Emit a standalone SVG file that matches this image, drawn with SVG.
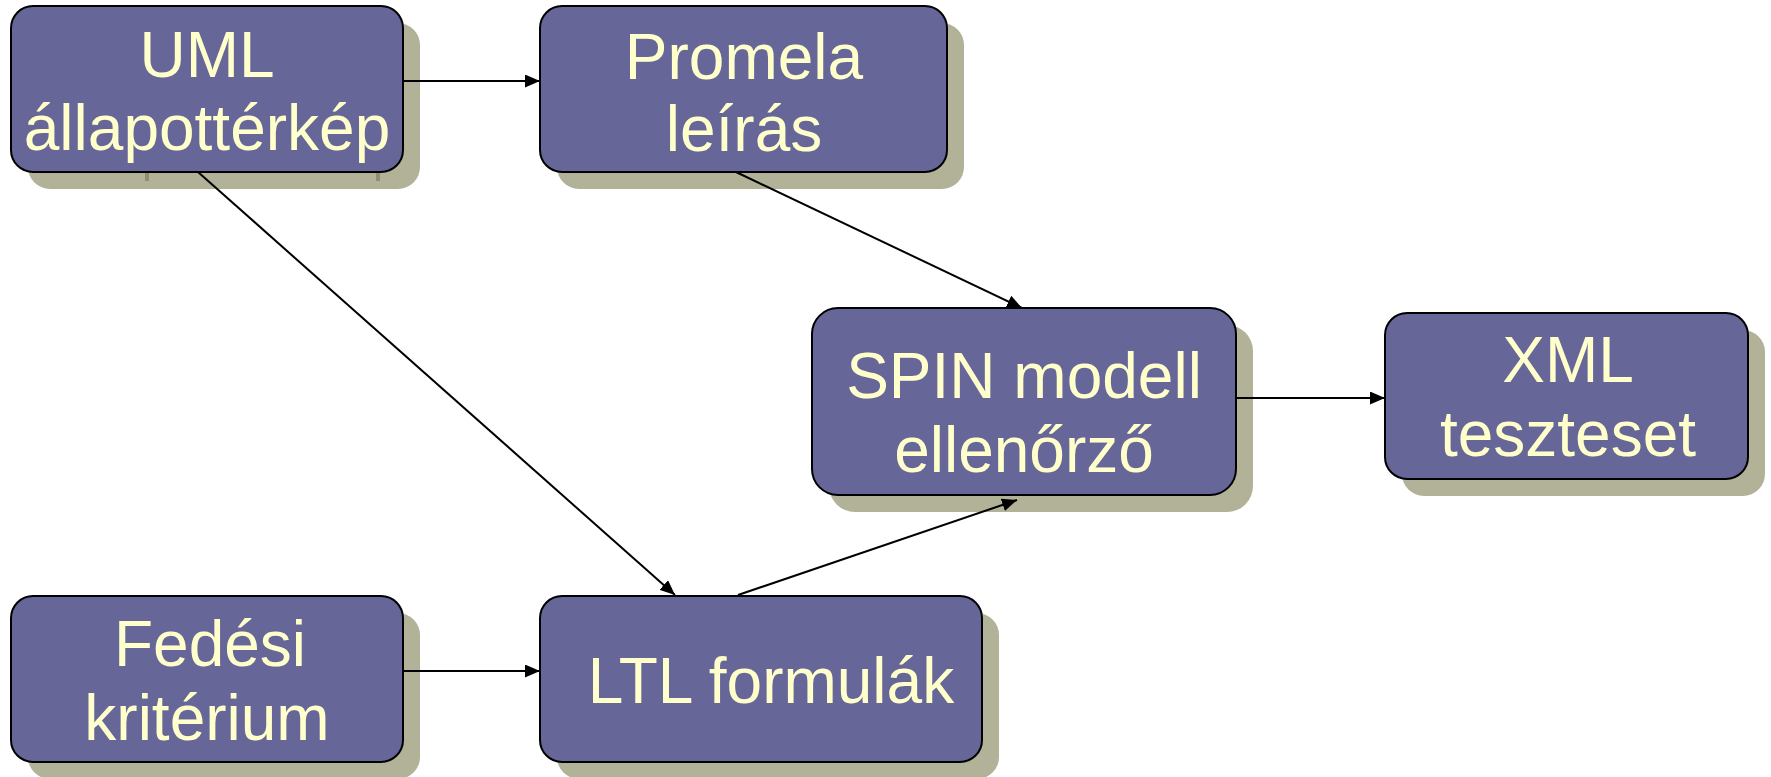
<svg xmlns="http://www.w3.org/2000/svg" width="1771" height="777" viewBox="0 0 1771 777">
<defs>
<style>
.sh{fill:#B2B299;}
.bx{fill:#666699;stroke:#000;stroke-width:2;}
.t{font-family:"Liberation Sans",Arial,sans-serif;font-size:64px;fill:#FFFFCC;text-anchor:middle;}
.c{stroke:#000;stroke-width:2;fill:none;marker-end:url(#ah);}
</style>
<marker id="ah" markerUnits="userSpaceOnUse" markerWidth="15" markerHeight="13" refX="15" refY="6.5" orient="auto">
<path d="M0,0 L15,6.5 L0,13 z" fill="#000"/>
</marker>
</defs>
<rect width="1771" height="777" fill="#fff"/>
<g id="n-uml">
<rect class="sh" x="28" y="23" width="392" height="166" rx="22"/>
<rect x="145" y="172" width="4" height="9" fill="#8F8F6F"/>
<rect x="376" y="172" width="4" height="9" fill="#8F8F6F"/>
<rect class="bx" x="11" y="6" width="392" height="166" rx="22"/>
<text class="t" x="207" y="77">UML</text>
<text class="t" x="207" y="150">állapottérkép</text>
</g>
<g id="n-promela">
<rect class="sh" x="557" y="23" width="407" height="166" rx="22"/>
<rect class="bx" x="540" y="6" width="407" height="166" rx="22"/>
<text class="t" x="744" y="79">Promela</text>
<text class="t" x="744" y="151">leírás</text>
</g>
<g id="n-spin">
<rect class="sh" x="829" y="325" width="424" height="187" rx="26"/>
<rect class="bx" x="812" y="308" width="424" height="187" rx="26"/>
<text class="t" x="1024" y="398">SPIN modell</text>
<text class="t" x="1024" y="472">ellenőrző</text>
</g>
<g id="n-xml">
<rect class="sh" x="1402" y="330" width="363" height="166" rx="22"/>
<rect class="bx" x="1385" y="313" width="363" height="166" rx="22"/>
<text class="t" x="1568" y="382">XML</text>
<text class="t" x="1568" y="456">teszteset</text>
</g>
<g id="n-fedesi">
<rect class="sh" x="28" y="613" width="392" height="166" rx="22"/>
<rect class="bx" x="11" y="596" width="392" height="166" rx="22"/>
<text class="t" x="210" y="666">Fedési</text>
<text class="t" x="207" y="740">kritérium</text>
</g>
<g id="n-ltl">
<rect class="sh" x="557" y="613" width="442" height="166" rx="22"/>
<rect class="bx" x="540" y="596" width="442" height="166" rx="22"/>
<text class="t" x="771" y="703">LTL formulák</text>
</g>
<g id="connectors">
<line class="c" x1="403" y1="81" x2="540" y2="81"/>
<line class="c" x1="736" y1="172" x2="1022" y2="308"/>
<line class="c" x1="198" y1="172" x2="675" y2="595"/>
<line class="c" x1="738" y1="595" x2="1017" y2="500"/>
<line class="c" x1="403" y1="671" x2="540" y2="671"/>
<line class="c" x1="1236" y1="398" x2="1385" y2="398"/>
</g>
</svg>
